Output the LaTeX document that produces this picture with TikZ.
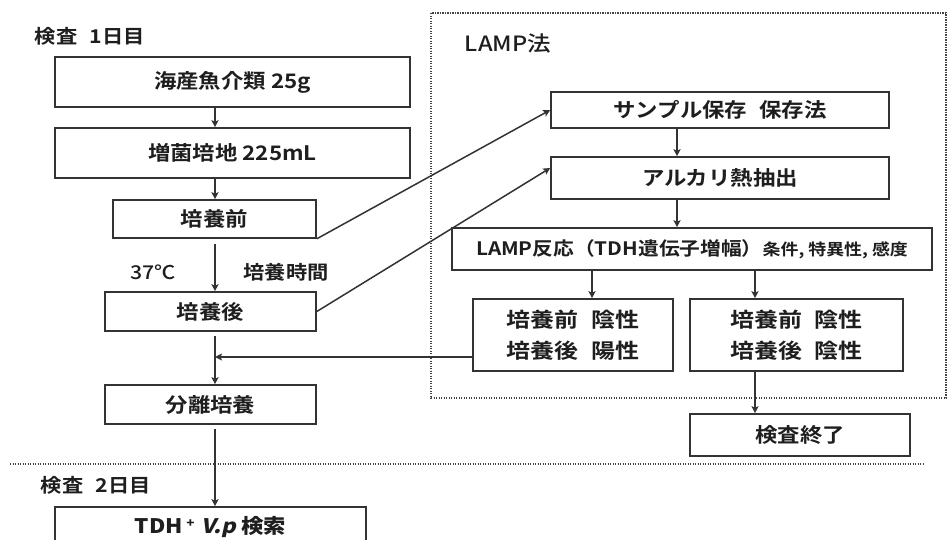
\documentclass[tikz,border=0pt]{standalone}
\usepackage{fontspec}
\setmainfont{Noto Sans CJK JP}[BoldFont={Noto Sans CJK JP Bold},FakeStretch=1.12]
\newfontfamily\jpwide{Noto Sans CJK JP Bold}[FakeStretch=1.17]
\newfontfamily\jpmed{Noto Sans CJK JP Medium}[FakeStretch=1.12]
\newfontfamily\jpslant{Noto Sans CJK JP}[FakeSlant=0.22,FakeStretch=1.12]
\usetikzlibrary{arrows.meta,calc}
\definecolor{linec}{HTML}{333333}
\definecolor{txtc}{HTML}{1E1E1E}
\definecolor{dotc}{HTML}{444444}
\begin{document}
\begin{tikzpicture}[x=1pt,y=-1pt,
  box/.style={draw=linec,line width=1.6pt,inner sep=0pt,text=txtc,font=\fontsize{20}{24}\selectfont\bfseries},
  twoline/.style={box,align=center,font=\fontsize{20.5}{31}\jpwide},
  lab/.style={inner sep=0pt,text=txtc,font=\fontsize{19}{22}\selectfont\bfseries},
  arr/.style={draw=linec,line width=1.5pt,-{Stealth[length=7pt,width=7pt,inset=1.5pt]}},
  dotline/.style={draw=dotc,line width=1.3pt,dash pattern=on 1.2pt off 1.3pt}]
\useasboundingbox (0,0) rectangle (951,539);
\clip (0,0) rectangle (951,539);
\fill[white] (0,0) rectangle (951,539);

% dotted frames
\draw[dotline] (431,13) rectangle (946,398);
\draw[dotline] (10,464) -- (923,464);

% headings
\node[lab] (h1) at (90,36) {検査\hspace{0.65em}1日目};
\node[lab] (h2) at (96,485) {検査\hspace{0.65em}2日目};
\node[lab,font=\fontsize{21}{24}\jpmed] (lamp) at (508,44) {LAMP法};
\node[lab,font=\fontsize{19}{22}\jpmed] (t37) at (153,272) {37℃};
\node[lab] (tcul) at (286,272) {培養時間};

% left column
\coordinate (col) at (215,0);
\node[box,minimum width=355pt,minimum height=50pt] (b1) at (232.5,82) {海産魚介類 25g};
\node[box,minimum width=355pt,minimum height=50pt] (b2) at (232.5,153) {増菌培地 225mL};
\node[box,minimum width=203pt,minimum height=38pt] (b3) at (214.5,219) {培養前};
\node[box,minimum width=211pt,minimum height=39pt] (b4) at (210.5,311.5) {培養後};
\node[box,minimum width=211pt,minimum height=39pt] (b5) at (210.5,404.5) {分離培養};
\node[box,minimum width=311pt,minimum height=40pt] (b6) at (210.5,527) {\jpmed TDH\,\raisebox{6pt}{\fontsize{12}{12}\selectfont +}\,\,{\jpslant V.p} \bfseries 検索};

% LAMP column
\coordinate (lc) at (677,0);
\coordinate (ra) at (592,0);
\coordinate (rb) at (755,0);
\node[box,minimum width=338pt,minimum height=36pt] (L1) at (720,110) {サンプル保存\hspace{0.6em}保存法};
\node[box,minimum width=338pt,minimum height=42pt] (L2) at (720,178) {アルカリ熱抽出};
\node[box,minimum width=480pt,minimum height=42pt,font=\fontsize{18.5}{22}\selectfont\bfseries] (L3) at (692,249) {LAMP反応（TDH遺伝子増幅）{\fontsize{16}{20}\selectfont 条件, 特異性, 感度}};
\node[twoline,minimum width=200pt,minimum height=72pt] (L4) at (573,335) {培養前\hspace{0.6em}陰性\\培養後\hspace{0.6em}陽性};
\node[twoline,minimum width=213pt,minimum height=72pt] (L5) at (796.5,335) {培養前\hspace{0.6em}陰性\\培養後\hspace{0.6em}陰性};
\node[box,minimum width=220pt,minimum height=42pt] (E) at (800,435) {検査終了};

% arrows left column
\draw[arr] (b1.south -| col) -- (b2.north -| col);
\draw[arr] (b2.south -| col) -- (b3.north -| col);
\draw[arr] ([yshift=-5pt]b3.south -| col) -- (b4.north -| col);
\draw[arr] ([yshift=-4pt]b4.south -| col) -- (b5.north -| col);
\draw[arr] ([yshift=-4pt]b5.south -| col) -- (b6.north -| col);
\coordinate (J) at (215,357);
\draw[arr] ([yshift=-22pt]L4.west) -- (J);

% diagonal arrows
\draw[arr] (b3.south east) -- (L1.west);
\draw[arr] (b4.east) -- ([yshift=10pt]L2.west);

% arrows LAMP column
\draw[arr] (L1.south -| lc) -- (L2.north -| lc);
\draw[arr] (L2.south -| lc) -- (L3.north -| lc);
\draw[arr] (L3.south -| ra) -- (L4.north -| ra);
\draw[arr] (L3.south -| rb) -- (L5.north -| rb);
\draw[arr,line width=1.1pt] (L5.south -| rb) -- (E.north -| rb);
\end{tikzpicture}
\end{document}
